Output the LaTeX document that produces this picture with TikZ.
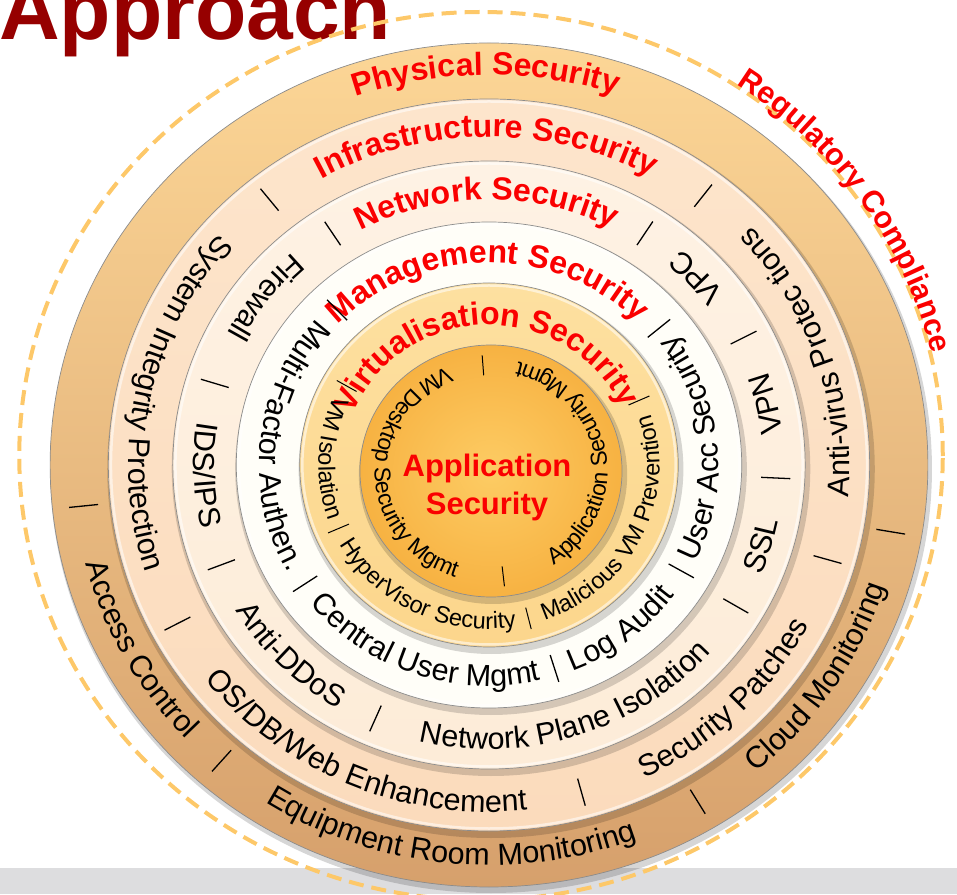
\documentclass[tikz,border=0pt]{standalone}
\usepackage{fontspec}
\setmainfont{Liberation Sans}
\usepackage{xcolor}
\usetikzlibrary{decorations.text}

\definecolor{titlered}{RGB}{150,0,0}
\definecolor{labred}{RGB}{250,0,0}
\definecolor{dashgold}{RGB}{253,200,105}
\definecolor{bandgray}{RGB}{221,221,223}
\definecolor{physTop}{RGB}{252,214,150}
\definecolor{physBot}{RGB}{214,160,108}
\definecolor{infraTop}{RGB}{253,229,204}
\definecolor{infraBot}{RGB}{251,219,188}
\definecolor{netTop}{RGB}{254,242,228}
\definecolor{netBot}{RGB}{253,236,216}
\definecolor{mgmtC}{RGB}{255,254,248}
\definecolor{virtTop}{RGB}{253,224,160}
\definecolor{virtBot}{RGB}{252,214,140}
\definecolor{appIn}{RGB}{253,204,100}
\definecolor{appOut}{RGB}{247,178,66}

\newcommand\ringlabfont{\bfseries\fontsize{32}{32}\selectfont}
\newcommand\ringitemfont{\fontsize{30.5}{30.5}\selectfont}
\newcommand\virtitemfont{\fontsize{23.5}{23.5}\selectfont}
\newcommand\appitemfont{\fontsize{23}{23}\selectfont}

% red ring title, read clockwise over the top
\newcommand\toplabel[4][\ringlabfont]{%
  \path[decorate, decoration={text along path, text align=center,
    text color=labred, text={|#1|#4}}]
    (#3+85:#2) arc[start angle=#3+85, end angle=#3-85, radius=#2];}
% black ring item, read anticlockwise
\newcommand\itemarc[4][\ringitemfont]{%
  \path[decorate, decoration={text along path, text align=center,
    text={|#1|#4}}]
    (#3-80:#2) arc[start angle=#3-80, end angle=#3+80, radius=#2];}

\tikzset{
  disc/.style={draw=black!45, line width=0.7pt},
  discshadow/.style={fill=black, opacity=0.16},
  gloss/.style={draw=white, opacity=0.55, line width=2.5pt},
  sep/.style={draw=black, line width=1.3pt},
  ringdash/.style={draw=dashgold, line width=4pt, dash pattern=on 15pt off 8pt},
}

\begin{document}
\begin{tikzpicture}[x=1.04pt, y=1pt]
\useasboundingbox (0pt,0pt) rectangle (957pt,894pt);
\coordinate (C) at (489pt,429pt);
\coordinate (A) at (491pt,423pt);
\coordinate (D) at (481pt,438pt);

\fill[bandgray] (0pt,0pt) rectangle (957pt,26pt);
\node[anchor=base west, inner sep=0pt, text=titlered,
  font=\bfseries\fontsize{84}{84}\selectfont] (title) at (-1pt,854pt) {Approach};
\draw[ringdash] (D) circle[radius=444];

% nested discs
\fill[discshadow] ([shift={(2pt,-4pt)}]C) circle[radius=424];
\path[disc, top color=physTop, bottom color=physBot] (C) circle[radius=422];
\foreach \r/\ct/\cb in {366/infraTop/infraBot, 304/netTop/netBot,
    243/mgmtC/mgmtC, 182/virtTop/virtBot}{
  \fill[discshadow] ([shift={(2pt,-4pt)}]C) circle[radius=\r+3];
  \path[disc, top color=\ct, bottom color=\cb] (C) circle[radius=\r];
  \draw[gloss] (C) circle[radius=\r-2.5];
}
\fill[discshadow] ([shift={(2pt,-4pt)}]A) circle[radius=129];
\path[disc, inner color=appIn, outer color=appOut] (A) circle[radius=126];

\begin{scope}[shift={(C)}]
  % physical
  \toplabel{390}{90.5}{Physical Security}
  \foreach \a in {186,229,300.8,350.2} \draw[sep] (\a:406) -- (\a:378);
  \itemarc{400}{208}{Access Control}
  \itemarc{400}{264}{Equipment Room Monitoring}
  \itemarc{400}{327}{Cloud Monitoring}
  % infrastructure
  \toplabel{328}{90.5}{Infrastructure Security}
  \foreach \a in {128.5,207.9,285.2,343.8,52.6} \draw[sep] (\a:353) -- (\a:325);
  \itemarc{347}{168.5}{System Integrity Protection}
  \itemarc{347}{246.5}{OS/DB/Web Enhancement}
  \itemarc{347}{315}{Security Patches}
  \itemarc{347}{18.5}{Anti-virus Protec tions}
  % network
  \toplabel{265}{90.5}{Network Security}
  \foreach \a in {123,162.8,201.2,246.7,329.3,357.3,27.5,57.1} \draw[sep] (\a:290) -- (\a:262);
  \itemarc{284}{143}{Firewall}
  \itemarc{284}{182}{IDS/IPS}
  \itemarc{284}{224}{Anti-DDoS}
  \itemarc{284}{288}{Network Plane Isolation}
  \itemarc{284}{343.5}{SSL}
  \itemarc{284}{12.4}{VPN}
  \itemarc{284}{42.3}{VPC}
  % management
  \toplabel{202}{90.5}{Management Security}
  \foreach \a in {133.3,213.9,287.2,330.2,39.9} \draw[sep] (\a:227) -- (\a:199);
  \itemarc{221}{174}{Multi-Factor Authen.}
  \itemarc{221}{250.5}{Central User Mgmt}
  \itemarc{221}{308.6}{Log Audit}
  \itemarc{221}{5}{User Acc Security}
  % virtualisation
  \toplabel{140}{91.5}{Virtualisation Security}
  \foreach \a in {150,203.7,283.9,24.1} \draw[sep, line width=1pt] (\a:169) -- (\a:147);
  \itemarc[\virtitemfont]{164}{177.5}{VM Isolation}
  \itemarc[\virtitemfont]{164}{243.5}{HyperVisor Security}
  \itemarc[\virtitemfont]{164}{334}{Malicious VM Prevention}
\end{scope}

\begin{scope}[shift={(A)}]
  \foreach \a in {94.2,276.4} \draw[sep, line width=1pt] (\a:116) -- (\a:96);
  \itemarc[\appitemfont]{112}{182}{VM Desktop Security Mgmt}
  \itemarc[\appitemfont]{112}{9.4}{Application Security Mgmt}
\end{scope}

\node[anchor=base, text=labred, font=\bfseries\fontsize{31}{31}\selectfont]
  (appname) at (487pt,417pt) {Application};
\node[anchor=base, text=labred, font=\bfseries\fontsize{31}{31}\selectfont]
  (appsec) at ([yshift=-38pt]appname.base) {Security};

\begin{scope}[shift={(D)}]
  \toplabel[\bfseries\fontsize{30.5}{30.5}\selectfont]{445}{34}{Regulatory Compliance}
\end{scope}
\end{tikzpicture}
\end{document}
